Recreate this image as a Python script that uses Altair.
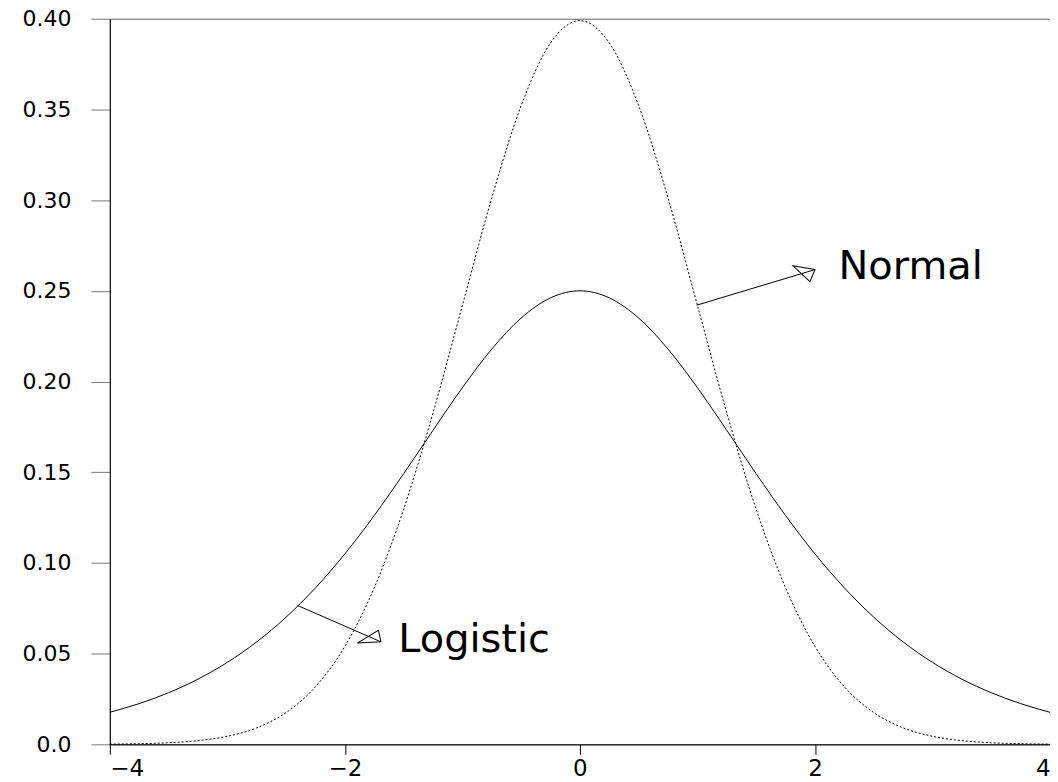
import altair as alt
import pandas as pd

# x grid of the two density curves
x_vals = [-4.0, -3.75, -3.5, -3.25, -3.0, -2.75, -2.5, -2.25, -2.0, -1.75, -1.5, -1.25, -1.0,
          -0.75, -0.5, -0.25, 0.0, 0.25, 0.5, 0.75, 1.0, 1.25, 1.5, 1.75, 2.0, 2.25, 2.5,
          2.75, 3.0, 3.25, 3.5, 3.75, 4.0]

normal_vals = [0.00013, 0.00035, 0.00087, 0.00203, 0.00443, 0.00909, 0.01753, 0.03174,
               0.05399, 0.08628, 0.12952, 0.18265, 0.24197, 0.30114, 0.35207, 0.38667,
               0.39894,
               0.38667, 0.35207, 0.30114, 0.24197, 0.18265, 0.12952, 0.08628, 0.05399,
               0.03174, 0.01753, 0.00909, 0.00443, 0.00203, 0.00087, 0.00035, 0.00013]

logistic_vals = [0.01766, 0.02245, 0.02845, 0.03593, 0.04518, 0.05648, 0.07010, 0.08626,
                 0.10499, 0.12613, 0.14915, 0.17310, 0.19661, 0.21789, 0.23500, 0.24613,
                 0.25000,
                 0.24613, 0.23500, 0.21789, 0.19661, 0.17310, 0.14915, 0.12613, 0.10499,
                 0.08626, 0.07010, 0.05648, 0.04518, 0.03593, 0.02845, 0.02245, 0.01766]

y_ticks = [0.0, 0.05, 0.10, 0.15, 0.20, 0.25, 0.30, 0.35, 0.40]
x_ticks = [-4, -2, 0, 2, 4]

# annotations
labels = ["Normal", "Logistic"]
label_x = [2.2, -1.546]
label_y = [0.2564, 0.0508]
arrow_x0 = [0.994, -2.401]
arrow_y0 = [0.2421, 0.0765]
arrow_x1 = [2.0, -1.693]
arrow_y1 = [0.2617, 0.0565]
head_angle = [343.2, 23.5]
head_path = ["M0,0 L-2,-1 L-0.82,1 Z", "M0,0 L-2.1,1.03 L-0.69,-0.96 Z"]

curves = pd.DataFrame({"x": x_vals, "normal": normal_vals, "logistic": logistic_vals})
ann = pd.DataFrame({
    "label": labels, "lx": label_x, "ly": label_y,
    "x0": arrow_x0, "y0": arrow_y0, "x1": arrow_x1, "y1": arrow_y1,
    "angle": head_angle, "path": head_path,
})

FONT = "DejaVu Sans"

xscale = alt.Scale(domain=[-4, 4], nice=False, zero=False)
yscale = alt.Scale(domain=[0, 0.4], nice=False, zero=False)

xaxis = alt.Axis(values=x_ticks, title=None, grid=False, tickSize=10, tickColor="black",
                 domainColor="black", labelFont=FONT, labelFontSize=23, labelColor="black",
                 labelPadding=3, labelExpr="replace(format(datum.value, 'd'), '-', '\u2212')")
yaxis = alt.Axis(values=y_ticks, title=None, grid=False, tickSize=19, tickColor="#777777",
                 domainColor="black", labelFont=FONT, labelFontSize=22, labelColor="black",
                 labelPadding=20,
                 labelExpr="datum.value == 0 ? '0.0' : format(datum.value, '.2f')")

base = alt.Chart(curves)

logistic_line = base.mark_line(color="black", strokeWidth=1, interpolate="monotone").encode(
    x=alt.X("x:Q", scale=xscale, axis=xaxis),
    y=alt.Y("logistic:Q", scale=yscale, axis=yaxis),
)
normal_line = base.mark_line(color="black", strokeWidth=1, strokeDash=[2, 2],
                             interpolate="monotone").encode(
    x=alt.X("x:Q", scale=xscale),
    y=alt.Y("normal:Q", scale=yscale),
)

annb = alt.Chart(ann)
arrows = annb.mark_rule(color="black", strokeWidth=1).encode(
    x=alt.X("x0:Q", scale=xscale), y=alt.Y("y0:Q", scale=yscale),
    x2="x1:Q", y2="y1:Q",
)
heads = annb.mark_point(filled=False, color="black", strokeWidth=1, size=400, opacity=1).encode(
    x=alt.X("x1:Q", scale=xscale), y=alt.Y("y1:Q", scale=yscale),
    shape=alt.Shape("path:N", scale=None),
    angle=alt.Angle("angle:Q", scale=None),
)
texts = annb.mark_text(font=FONT, fontSize=40, align="left", baseline="alphabetic",
                       color="black").encode(
    x=alt.X("lx:Q", scale=xscale), y=alt.Y("ly:Q", scale=yscale), text="label:N",
)

chart = alt.layer(logistic_line, normal_line, arrows, heads, texts).properties(
    width=942, height=727,
    autosize=alt.AutoSizeParams(type="none"),
    padding={"left": 102, "top": 10, "right": 0, "bottom": 40},
).configure_view(stroke="#666666", strokeWidth=1)

chart.save("out.html", embed_options={"renderer": "svg", "actions": False})
